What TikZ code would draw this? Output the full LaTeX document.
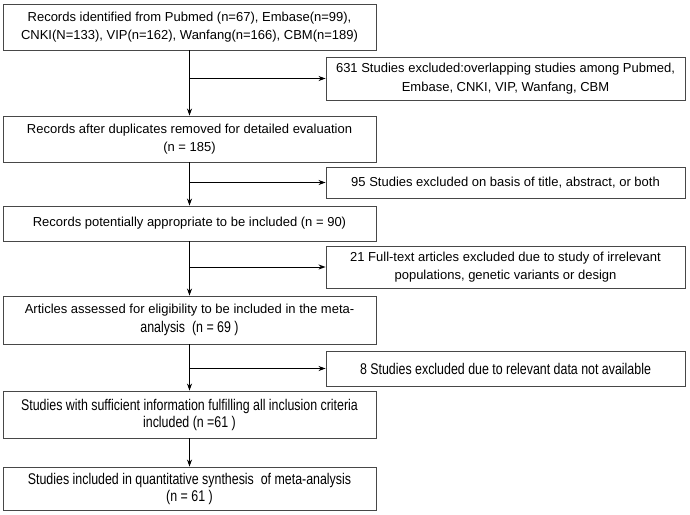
\documentclass[tikz,border=0pt]{standalone}
\usepackage{fontspec}
\setmainfont{Liberation Sans}
\newfontfamily\tallfont[FakeStretch=0.8]{Liberation Sans}
\usetikzlibrary{arrows.meta}
\newcommand{\tallsize}{\tallfont\fontsize{15.5}{17}\selectfont}
\begin{document}
\begin{tikzpicture}[x=1pt,y=-1pt,
  box/.style={draw=black!72, line width=0.9pt, align=center, inner sep=0pt,
    font=\fontsize{13}{18.5}\selectfont},
  lbox/.style={box, minimum width=373pt},
  rbox/.style={box, minimum width=359pt},
  tall/.style={font=\tallsize},
  arr/.style={draw=black, line width=0.9pt, -{Stealth[length=7pt,width=5pt]}}]
\useasboundingbox (0,0) rectangle (690,514);
% left column
\node[lbox, minimum height=46pt] (b1) at (189.5,27) {Records identified from Pubmed (n=67), Embase(n=99),\\CNKI(N=133), VIP(n=162), Wanfang(n=166), CBM(n=189)};
\node[lbox, minimum height=46pt] (b2) at (189.5,139) {Records after duplicates removed for detailed evaluation\\(n = 185)};
\node[lbox, minimum height=35pt] (b3) at (189.5,223.5) {Records potentially appropriate to be included (n = 90)};
\node[lbox, minimum height=48pt] (b4) at (189.5,320) {Articles assessed for eligibility to be included in the meta-\\{\tallsize analysis\ \ (n = 69 )}};
\node[lbox, tall, minimum height=47pt] (b5) at (189.5,414.5) {Studies with sufficient information fulfilling all inclusion criteria\\included (n =61 )};
\node[lbox, tall, minimum height=43pt] (b6) at (189.5,488.5) {Studies included in quantitative synthesis\ \ of meta-analysis\\(n = 61 )};
% right column
\node[rbox, minimum height=43pt] (r1) at (505.5,78.5) {631 Studies excluded:overlapping studies among Pubmed,\\Embase, CNKI, VIP, Wanfang, CBM};
\node[rbox, minimum height=31pt] (r2) at (505.5,182.5) {95 Studies excluded on basis of title, abstract, or both};
\node[rbox, minimum height=42pt] (r3) at (505.5,267) {21 Full-text articles excluded due to study of irrelevant\\populations, genetic variants or design};
\node[rbox, tall, minimum height=35pt] (r4) at (505.5,368.5) {8 Studies excluded due to relevant data not available};
% connectors
\draw[arr] (b1.south) -- (b2.north);
\draw[arr] (b2.south) -- (b3.north);
\draw[arr] (b3.south) -- (b4.north);
\draw[arr] (b4.south) -- (b5.north);
\draw[arr] (b5.south) -- (b6.north);
\draw[arr] (b1.south |- r1.west) -- (r1.west);
\draw[arr] (b2.south |- r2.west) -- (r2.west);
\draw[arr] (b3.south |- r3.west) -- (r3.west);
\draw[arr] (b4.south |- r4.west) -- (r4.west);
\end{tikzpicture}
\end{document}
